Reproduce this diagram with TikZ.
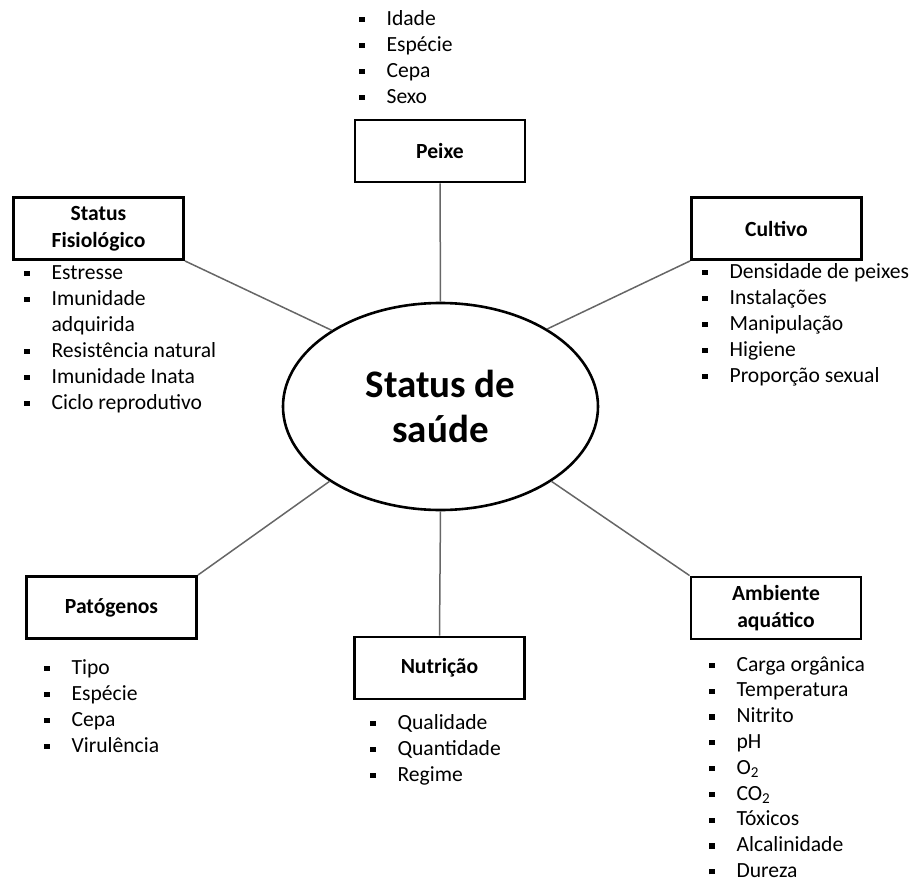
\documentclass[tikz,border=0pt]{standalone}
\usepackage{fontspec}
\setmainfont{Carlito}
\usetikzlibrary{shapes.geometric}

\newcommand{\marca}{\rule[0.3ex]{2.6pt}{2.6pt}}
\newcommand{\lista}[1]{\begin{tabular}[t]{@{}l@{\hspace{11pt}}l@{}}#1\end{tabular}}

\tikzset{
  caixa/.style={draw, line width=1.45pt, minimum width=85pt, minimum height=31pt,
    align=center, inner sep=2pt, font=\bfseries\fontsize{10.8}{13.5}\selectfont},
  itens/.style={anchor=base west, inner sep=0pt, font=\fontsize{10.8}{13}\selectfont},
  liga/.style={draw=black!60, line width=0.75pt},
}

\begin{document}
\begin{tikzpicture}[x=0.5pt, y=-0.5pt]
    \useasboundingbox (0,0) rectangle (917,884);

    % 中心椭圆
    \node (saude) at (440.5,406.5) [ellipse, draw, line width=1.3pt,
      minimum width=157.5pt, minimum height=103.5pt, inner sep=0pt, align=center,
      font=\bfseries\fontsize{19.5}{22.5}\selectfont] {Status de\\saúde};

    % 六个方框
    \node (peixe)  at (440,151)   [caixa] {Peixe};
    \node (fisio)  at (98.5,228.5) [caixa] {Status\\Fisiológico};
    \node (cult)   at (776.5,228.5) [caixa] {Cultivo};
    \node (patog)  at (111.5,607.5) [caixa] {Patógenos};
    \node (nutri)  at (439.5,668) [caixa] {Nutrição};
    \node (amb)    at (776,608)   [caixa] {Ambiente\\aquático};

    % 连线
    \draw[liga] (peixe.south) -- (saude.north);
    \draw[liga] (nutri.north) -- (saude.south);
    \draw[liga] (fisio.south east) -- (saude.145);
    \draw[liga] (cult.south west) -- (saude.36);
    \draw[liga] (patog.north east) -- (saude.214);
    \draw[liga] (amb.north west) -- (saude.326);

    % 各个列表
    \node (lpeixe) at (359,25) [itens] {\lista{
      \marca & Idade\\ \marca & Espécie\\ \marca & Cepa\\ \marca & Sexo}};
    \node (lfisio) at (24,279) [itens] {\lista{
      \marca & Estresse\\ \marca & Imunidade\\ & adquirida\\
      \marca & Resistência natural\\ \marca & Imunidade Inata\\
      \marca & Ciclo reprodutivo}};
    \node (lcult) at (702,278) [itens] {\lista{
      \marca & Densidade de peixes\\ \marca & Instalações\\
      \marca & Manipulação\\ \marca & Higiene\\ \marca & Proporção sexual}};
    \node (lpatog) at (44,674) [itens] {\lista{
      \marca & Tipo\\ \marca & Espécie\\ \marca & Cepa\\ \marca & Virulência}};
    \node (lnutri) at (370,729) [itens] {\lista{
      \marca & Qualidade\\ \marca & Quantidade\\ \marca & Regime}};
    \node (lamb) at (709,671) [itens, font=\fontsize{10.8}{12.9}\selectfont] {\lista{
      \marca & Carga orgânica\\ \marca & Temperatura\\ \marca & Nitrito\\
      \marca & pH\\ \marca & O\textsubscript{2}\\ \marca & CO\textsubscript{2}\\
      \marca & Tóxicos\\ \marca & Alcalinidade\\ \marca & Dureza}};
\end{tikzpicture}
\end{document}
